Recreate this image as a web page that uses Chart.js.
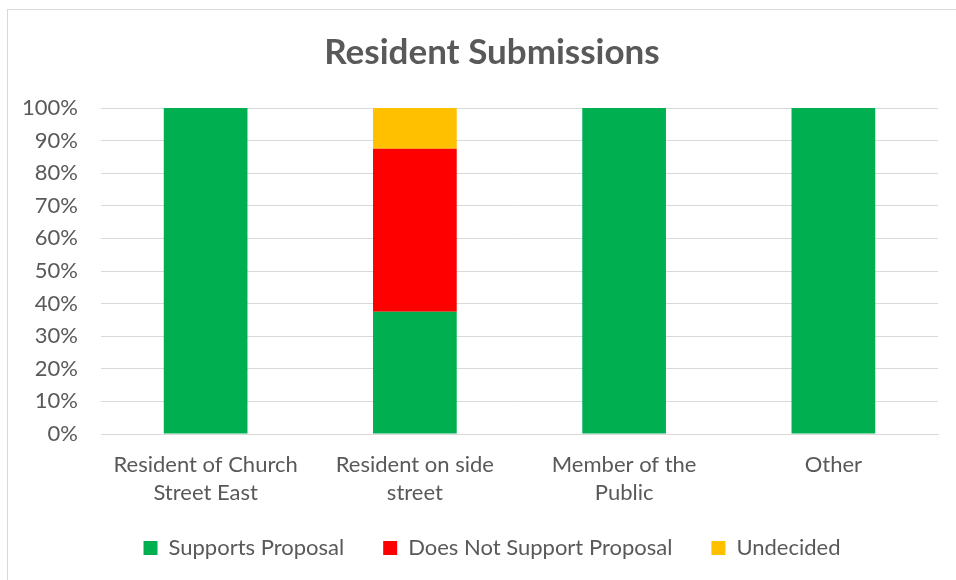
<!DOCTYPE html>
<html>
<head>
<meta charset="utf-8">
<title>Resident Submissions</title>
<script src="https://cdn.jsdelivr.net/npm/chart.js@4"></script>
<style>
  html, body { margin: 0; padding: 0; background: #fff; }
  #wrap { position: relative; width: 956px; height: 580px; overflow: hidden; }
  #frame {
    position: absolute; left: 7px; top: 9px; right: -2px; bottom: -2px;
    border: 1px solid #d9d9d9;
  }
  #chart { position: absolute; left: 0; top: 0; }
</style>
</head>
<body>
<div id="wrap">
  <div id="frame"></div>
  <canvas id="chart" width="956" height="580"></canvas>
</div>
<script>
// ------------------------------
// Data
// ------------------------------

const categories = [
  ["Resident of Church", "Street East"],
  ["Resident on side", "street"],
  ["Member of the", "Public"],
  "Other"
];

const supports = [100, 37.5, 100, 100];
const notSupport = [0, 50, 0, 0];
const undecided = [0, 12.5, 0, 0];

const yTicks = [0, 10, 20, 30, 40, 50, 60, 70, 80, 90, 100];

const textColor = "#595959";
const gridColor = "#d9d9d9";
const fontFamily = "Lato, 'Open Sans', sans-serif";

// tick labels may run outside their scale box (two-line x labels, wide y labels)
const noLabelClip = {
  id: "noLabelClip",
  beforeDraw(chart) {
    Object.values(chart.scales).forEach(s => {
      s._computeLabelArea = () => undefined;
    });
  }
};

// ------------------------------
// Stacked bar chart
// ------------------------------

new Chart(document.getElementById("chart"), {
  type: "bar",
  data: {
    labels: categories,
    datasets: [
      { label: "Supports Proposal", data: supports, backgroundColor: "#00b050" },
      { label: "Does Not Support Proposal", data: notSupport, backgroundColor: "#ff0000" },
      { label: "Undecided", data: undecided, backgroundColor: "#ffc000" }
    ]
  },
  plugins: [noLabelClip],
  options: {
    responsive: false,
    animation: false,
    devicePixelRatio: 1,
    datasets: {
      bar: { barPercentage: 0.4, categoryPercentage: 1 }
    },
    layout: { padding: { left: 46, right: 18, top: 0, bottom: 11 } },
    plugins: {
      tooltip: { enabled: false },
      title: {
        display: true,
        text: "Resident Submissions",
        color: textColor,
        font: { family: fontFamily, size: 35, weight: "bold", lineHeight: 1.2 },
        padding: { top: 32, bottom: 34 }
      },
      legend: {
        position: "bottom",
        labels: {
          color: textColor,
          font: { family: fontFamily, size: 22 },
          boxWidth: 14,
          boxHeight: 14,
          padding: 39
        }
      }
    },
    scales: {
      x: {
        stacked: true,
        grid: { display: false, drawTicks: false },
        border: { display: true, color: gridColor, width: 1 },
        ticks: {
          color: textColor,
          font: { family: fontFamily, size: 22, lineHeight: 1.27 },
          padding: 17,
          maxRotation: 0,
          autoSkip: false
        },
        afterFit: (scale) => { scale.height = 64; }
      },
      y: {
        stacked: true,
        min: 0,
        max: 100,
        grid: { color: gridColor, drawTicks: false },
        border: { display: false },
        afterBuildTicks: (scale) => {
          scale.ticks = yTicks.map(v => ({ value: v }));
        },
        ticks: {
          color: textColor,
          font: { family: fontFamily, size: 22 },
          padding: 23,
          callback: (v) => v + "%"
        },
        afterFit: (scale) => { scale.width = 55; }
      }
    }
  }
});
</script>
</body>
</html>
